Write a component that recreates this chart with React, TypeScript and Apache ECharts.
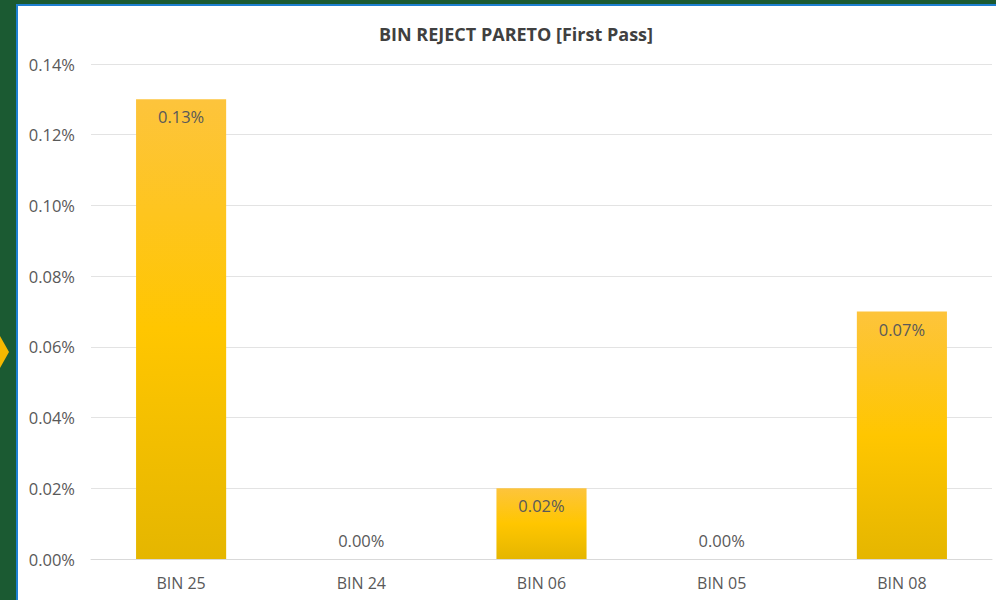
import React, { useEffect, useRef } from "react";
import * as echarts from "echarts";

const categories = ["BIN 25", "BIN 24", "BIN 06", "BIN 05", "BIN 08"];
const rejectPct = [0.13, 0.0, 0.02, 0.0, 0.07];
const yTicks = { min: 0, max: 0.14, interval: 0.02 };

export default function App() {
  const ref = useRef<HTMLDivElement>(null);
  useEffect(() => {
    if (!ref.current) return;
    const chart = echarts.init(ref.current, null, { renderer: "svg" });
    const barGradient = new echarts.graphic.LinearGradient(0, 0, 0, 1, [
      { offset: 0, color: "#fdc43c" },
      { offset: 0.5, color: "#ffc600" },
      { offset: 1, color: "#e5b600" },
    ]);
    chart.setOption({
      animation: false,
      backgroundColor: "#1b5a32",
      graphic: [
        {
          type: "rect",
          shape: { x: 17, y: 5, width: 990, height: 600 },
          style: { fill: "#ffffff", stroke: "#1f7fd0", lineWidth: 2 },
          z: -10,
        },
        {
          type: "polygon",
          shape: { points: [[0, 336], [9, 352], [0, 368]] },
          style: { fill: "#f5b800" },
        },
      ],
      title: {
        text: "BIN REJECT PARETO [First Pass]",
        left: 511,
        top: 20,
        textAlign: "center",
        textStyle: {
          fontFamily: "Open Sans",
          fontSize: 18,
          fontWeight: "bold",
          color: "#404040",
        },
      },
      grid: { left: 91, right: 4, top: 64, bottom: 41, containLabel: false },
      xAxis: {
        type: "category",
        data: categories,
        axisLine: { lineStyle: { color: "#d9d9d9" } },
        axisTick: { show: false },
        axisLabel: {
          color: "#595959",
          fontFamily: "Open Sans",
          fontSize: 16,
          margin: 16,
        },
      },
      yAxis: {
        type: "value",
        min: yTicks.min,
        max: yTicks.max,
        interval: yTicks.interval,
        axisLine: { show: false },
        axisTick: { show: false },
        splitLine: { lineStyle: { color: "#e3e3e3" } },
        axisLabel: {
          color: "#595959",
          fontFamily: "Open Sans",
          fontSize: 16.5,
          margin: 16,
          formatter: (v: number) => v.toFixed(2) + "%",
        },
      },
      series: [
        {
          type: "bar",
          data: rejectPct.map((v) => ({
            value: v,
            label:
              v === 0
                ? { position: "top", distance: 10 }
                : { position: "insideTop", distance: 9 },
          })),
          barWidth: "50%",
          itemStyle: { color: barGradient },
          label: {
            show: true,
            color: "#595959",
            fontFamily: "Open Sans",
            fontSize: 16.5,
            formatter: (p: any) => Number(p.value).toFixed(2) + "%",
          },
        },
      ],
    });
    return () => chart.dispose();
  }, []);
  return (
    <div
      ref={ref}
      style={{ position: "fixed", left: 0, top: 0, width: 996, height: 600 }}
    />
  );
}
